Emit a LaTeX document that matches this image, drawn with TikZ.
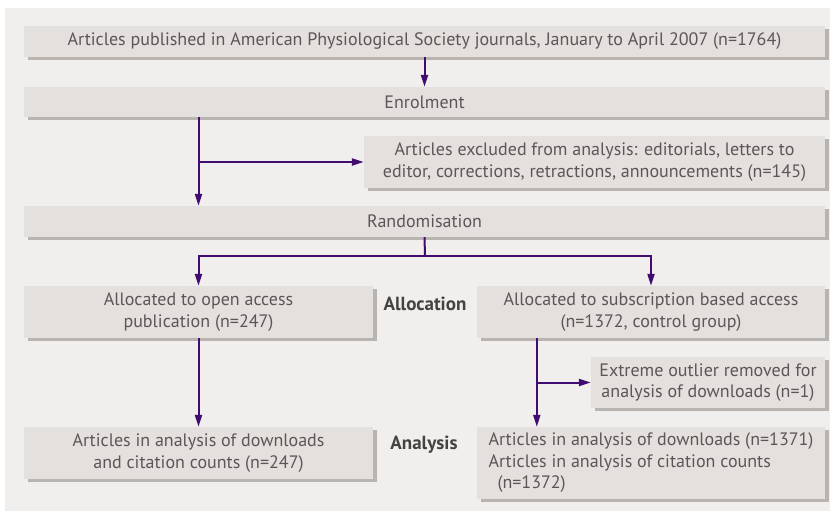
\documentclass[tikz,border=0pt]{standalone}
\usepackage{fontspec}
\setmainfont{PT Sans}
\usetikzlibrary{arrows.meta, shadows, positioning}
\definecolor{panelgrey}{RGB}{240,239,238}
\definecolor{boxgrey}{RGB}{228,224,221}
\definecolor{shadowgrey}{RGB}{186,180,176}
\definecolor{textgrey}{RGB}{92,87,87}
\definecolor{labelgrey}{RGB}{70,66,66}
\definecolor{flowpurple}{RGB}{64,12,112}

\begin{document}
\begin{tikzpicture}[x=1pt, y=-1pt,
        box/.style={fill=boxgrey, text=textgrey, inner sep=0pt, align=center,
            font=\fontsize{18}{21.5}\selectfont,
            drop shadow={shadow xshift=4pt, shadow yshift=-3pt, fill=shadowgrey, opacity=1}},
        stagelabel/.style={text=labelgrey, font=\fontsize{19}{21}\selectfont\bfseries},
        trunk/.style={line width=2pt, flowpurple},
        arr/.style={trunk, -{Triangle[length=12pt, width=7pt]}}]

    \useasboundingbox (0,0) rectangle (835,511);
    \fill[panelgrey] (5,8) rectangle (830,511);

    % boxes
    \node[box, minimum width=801pt, minimum height=31pt] (pub) at (424.5,41.5)
        {Articles published in American Physiological Society journals, January to April 2007 (n=1764)};
    \node[box, minimum width=801pt, minimum height=30pt] (enrol) at (424.5,102) {Enrolment};
    \node[box, minimum width=461pt, minimum height=52pt] (excl) at (594.5,162)
        {Articles excluded from analysis: editorials, letters to\\editor, corrections, retractions, announcements (n=145)};
    \node[box, minimum width=801pt, minimum height=31pt] (rand) at (424.5,221.5) {Randomisation};
    \node[box, minimum width=349pt, minimum height=52pt] (openacc) at (198.5,312)
        {Allocated to open access\\publication (n=247)};
    \node[box, minimum width=348pt, minimum height=52pt] (subacc) at (651,312)
        {Allocated to subscription based access\\(n=1372, control group)};
    \node[box, minimum width=234pt, minimum height=51pt] (outlier) at (708,382.5)
        {Extreme outlier removed for\\analysis of downloads (n=1)};
    \node[box, minimum width=349pt, minimum height=52pt] (openana) at (198.5,453)
        {Articles in analysis of downloads\\and citation counts (n=247)};
    \node[box, minimum width=348pt, minimum height=72pt, align=left] (subana) at (651,463)
        {Articles in analysis of downloads (n=1371)\\Articles in analysis of citation counts\\\hspace*{0.5em}(n=1372)};

    % stage labels
    \node[stagelabel] (alloclabel) at (425,304) {Allocation};
    \node[stagelabel] (analabel) at (424,445) {Analysis};

    % connectors
    \draw[arr] (pub.south) -- (enrol.north);
    \draw[arr] (enrol.south -| openacc.north) -- (rand.north -| openacc.north);
    \draw[arr] (excl.west -| openacc.north) -- (excl.west);
    \coordinate (randsplit) at (425,256);
    \draw[trunk] (rand.south) -- (randsplit);
    \draw[arr] (randsplit) -| (openacc.north);
    \draw[arr] (randsplit) -| (subacc.north);
    \draw[arr] (openacc.south) -- (openana.north);
    \coordinate (subtrunk) at ([xshift=60pt]subacc.south west);
    \draw[arr] (subtrunk) -- (subtrunk |- subana.north);
    \draw[arr] (outlier.west -| subtrunk) -- (outlier.west);
\end{tikzpicture}
\end{document}
